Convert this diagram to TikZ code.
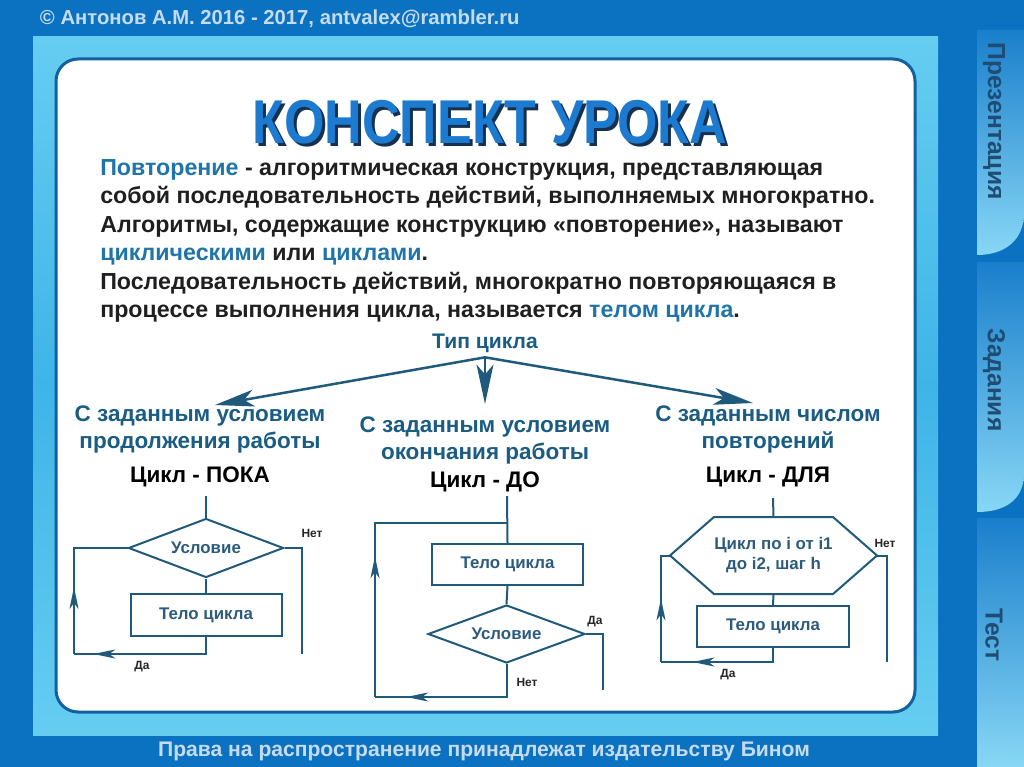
\documentclass[tikz,border=0pt]{standalone}
\usepackage{fontspec}
\setmainfont{Liberation Sans}
\newfontfamily\narrowsans{Liberation Sans}[FakeStretch=0.84]
\usepackage{tikz}
\usetikzlibrary{shapes.geometric,arrows.meta,decorations.markings}
\newlength\px
\setlength\px{0.025cm}
\definecolor{slideblue}{HTML}{0B72C2}
\definecolor{framelight}{HTML}{66CDF1}
\definecolor{framedark}{HTML}{3FB4E7}
\definecolor{paneledge}{HTML}{12609E}
\definecolor{tabtop}{HTML}{1A7FCB}
\definecolor{tabbottom}{HTML}{88D7F5}
\definecolor{tabtext}{HTML}{1E4C72}
\definecolor{titleblue}{HTML}{1C7AD0}
\definecolor{titleshade}{HTML}{16304F}
\definecolor{termblue}{HTML}{1F74A8}
\definecolor{headblue}{HTML}{1A5C82}
\definecolor{lineblue}{HTML}{1F5A7C}
\definecolor{boxtext}{HTML}{2C5B7E}
\definecolor{footgray}{HTML}{C6DCEE}
\newcommand{\term}[1]{\textcolor{termblue}{#1}}
\newcommand{\shadowed}[1]{\rlap{\kern3\px\raisebox{-3\px}{\textcolor{titleshade}{#1}}}#1}
\tikzstyle{flow} = [draw=lineblue, line width=2\px]
\tikzstyle{block} = [rectangle, draw=lineblue, line width=2\px, fill=white, text=boxtext,
    font=\fontsize{12}{14.2}\selectfont\bfseries, inner sep=0pt, align=center]
\tikzstyle{cond} = [diamond, aspect=2.6, draw=lineblue, line width=2\px, fill=white, text=boxtext,
    font=\fontsize{12}{14.2}\selectfont\bfseries, inner sep=0pt]
\tikzstyle{header} = [text=headblue, font=\fontsize{16}{19.5}\selectfont\bfseries, align=center]
\tikzstyle{kind} = [text=black, font=\fontsize{16}{19.5}\selectfont\bfseries]
\tikzstyle{answer} = [text=black!85, font=\fontsize{8.5}{10}\selectfont\bfseries]
\tikzstyle{branch} = [draw=lineblue, line width=2.5\px, -{Stealth[length=28pt,width=12pt,inset=7pt]}]
\tikzstyle{tab} = [top color=tabtop, bottom color=tabbottom, draw=none]
\tikzstyle{tablabel} = [text=tabtext, rotate=-90, font=\fontsize{17.5}{20}\selectfont\bfseries]
\tikzset{
   back/.style={postaction={decorate}, decoration={markings,
       mark=at position #1 with {\arrow{Stealth[length=15.6pt,width=6.4pt,inset=4.3pt]}}}}
}

\begin{document}
\begin{tikzpicture}[x=1\px, y=-1\px]
\useasboundingbox (0,0) rectangle (1024,767);
% slide background
\fill[slideblue] (0,0) rectangle (1024,767);
\shade[top color=framelight, bottom color=framelight, middle color=framedark] (33,37) rectangle (938,735);
\draw[paneledge, line width=3\px, fill=white, rounded corners=22\px] (56,59) rectangle (915,712);
% side tabs
\path[tab] (977,30) -- (1024,30) -- (1024,213) .. controls (1024,240) and (1005,255) .. (977,255) -- cycle;
\path[tab] (977,262) -- (1024,262) -- (1024,473) .. controls (1024,500) and (1005,512) .. (977,512) -- cycle;
\path[tab] (977,518) -- (1024,518) -- (1024,767) -- (977,767) -- cycle;
\node[tablabel] (tabshow) at (994,121) {Презентация};
\node[tablabel] (tabtasks) at (994,380) {Задания};
\node[tablabel] (tabtest) at (994,635) {Тест};
% header and footer
\node[text=footgray, font=\fontsize{14.4}{18}\selectfont\bfseries, anchor=west] (author) at (35,19)
    {© Антонов А.М. 2016 - 2017, antvalex@rambler.ru};
\node[text=footgray, font=\fontsize{15}{18}\selectfont\bfseries] (rights) at (484,751)
    {Права на распространение принадлежат издательству Бином};
% title
\node[text=titleblue, inner sep=0pt, font=\narrowsans\fontsize{44}{44}\selectfont\bfseries] (title) at (490,124)
    {\shadowed{КОНСПЕКТ УРОКА}};
% notes
\node[anchor=north west, align=left, inner sep=0pt, text=black!88,
      font=\fontsize{16.5}{20.3}\selectfont\bfseries] (notes) at (100,159) {%
    \term{Повторение} - алгоритмическая конструкция, представляющая\\
    собой последовательность действий, выполняемых многократно.\\
    Алгоритмы, содержащие конструкцию «повторение», называют\\
    \term{циклическими} или \term{циклами}.\\
    Последовательность действий, многократно повторяющаяся в\\
    процессе выполнения цикла, называется \term{телом цикла}.};
% loop kinds
\node[header, font=\fontsize{15}{18}\selectfont\bfseries] (looptype) at (485,343) {Тип цикла};
\node[header] (whilehead) at (200,429.5) {С заданным условием\\продолжения работы};
\node[header] (untilhead) at (485,440.5) {С заданным условием\\окончания работы};
\node[header] (forhead) at (768,429.5) {С заданным числом\\повторений};
\node[kind] (whilekind) at (200,477) {Цикл - ПОКА};
\node[kind] (untilkind) at (485,482) {Цикл - ДО};
\node[kind] (forkind) at (768,477) {Цикл - ДЛЯ};
\coordinate (tipwhile) at (215,405);
\coordinate (tipuntil) at (485,404);
\coordinate (tipfor) at (753,403);
\draw[branch] (looptype.south) -- (tipwhile);
\draw[branch] (looptype.south) -- (tipuntil);
\draw[branch] (looptype.south) -- (tipfor);

% loop while
\node[cond, minimum width=155\px, minimum height=59\px] (cond1) at (206,548) {Условие};
\node[block, minimum width=151\px, minimum height=42\px] (body1) at (206,615) {Тело цикла};
\coordinate (in1) at (206,496);
\coordinate (ret1) at (74,654);
\coordinate (out1) at (302,654);
\draw[flow] (in1) -- (cond1.north);
\draw[flow] (cond1.south) -- (body1.north);
\draw[flow, back=0.87] (body1.south) |- (ret1);
\draw[flow, back=0.42] (ret1) |- (cond1.west);
\draw[flow] (cond1.east) -| (out1);
\node[answer] (yes1) at (142,667) {Да};
\node[answer] (no1) at (312,533) {Нет};

% loop until
\node[block, minimum width=151\px, minimum height=41\px] (body2) at (507.5,564.5) {Тело цикла};
\node[cond, minimum width=157\px, minimum height=58\px] (cond2) at (506.5,634) {Условие};
\coordinate (in2) at (507,496);
\coordinate (join2) at (507,523);
\coordinate (ret2) at (375,697);
\coordinate (out2) at (603,690);
\draw[flow] (in2) -- (body2.north);
\draw[flow] (body2.south) -- (cond2.north);
\draw[flow, back=0.81] (cond2.south) |- (ret2);
\draw[flow, back=0.46] (ret2) |- (join2);
\draw[flow] (cond2.east) -| (out2);
\node[answer] (yes2) at (595,622) {Да};
\node[answer] (no2) at (527,682) {Нет};

% loop for
\node[block, draw=none, fill=none, minimum width=205\px, minimum height=75\px] (head3) at (773.5,555.5)
    {Цикл по i от i1\\до i2, шаг h};
\draw[flow] ([xshift=44\px]head3.north west) -- ([xshift=-44\px]head3.north east) -- (head3.east)
    -- ([xshift=-44\px]head3.south east) -- ([xshift=44\px]head3.south west) -- (head3.west) -- cycle;
\node[block, minimum width=152\px, minimum height=41\px] (body3) at (773,626.5) {Тело цикла};
\coordinate (in3) at (773,498);
\coordinate (ret3) at (661,662);
\coordinate (out3) at (887,662);
\draw[flow] (in3) -- (head3.north);
\draw[flow] (head3.south) -- (body3.north);
\draw[flow, back=0.75] (body3.south) |- (ret3);
\draw[flow, back=0.55] (ret3) |- (head3.west);
\draw[flow] (head3.east) -| (out3);
\node[answer] (yes3) at (728,675) {Да};
\node[answer] (no3) at (885,543) {Нет};
\end{tikzpicture}
\end{document}
